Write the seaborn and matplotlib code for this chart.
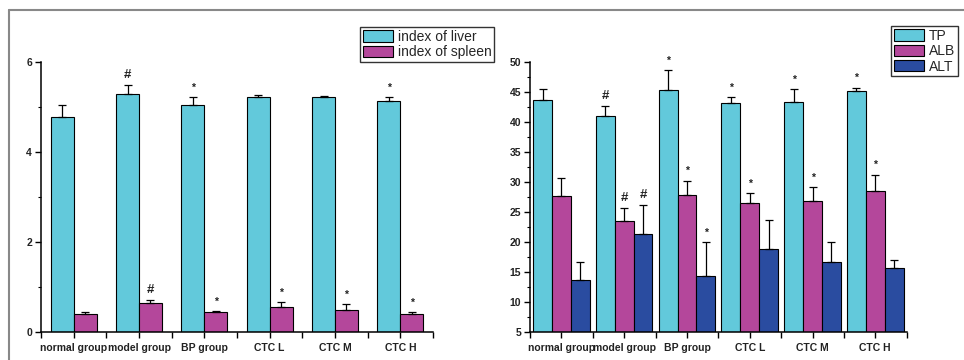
import numpy as np
import pandas as pd
import matplotlib
matplotlib.use("Agg")
import matplotlib.pyplot as plt
from matplotlib.lines import Line2D
from matplotlib.ticker import MultipleLocator, FixedLocator
import seaborn as sns

groups = ["normal group", "model group", "BP group", "CTC L", "CTC M", "CTC H"]

# left panel: organ indices
liver = [4.78, 5.28, 5.04, 5.22, 5.22, 5.14]
liver_err = [0.27, 0.20, 0.19, 0.05, 0.03, 0.08]
spleen = [0.41, 0.64, 0.44, 0.55, 0.50, 0.41]
spleen_err = [0.03, 0.07, 0.03, 0.11, 0.12, 0.03]
liver_marks = ["", "#", "*", "", "", "*"]
spleen_marks = ["", "#", "*", "*", "*", "*"]

# right panel: serum biochemistry
tp = [43.7, 41.1, 45.4, 43.2, 43.4, 45.2]
tp_err = [1.8, 1.6, 3.3, 1.0, 2.2, 0.6]
alb = [27.7, 23.6, 27.9, 26.5, 26.9, 28.6]
alb_err = [3.0, 2.1, 2.4, 1.7, 2.3, 2.7]
alt = [13.8, 21.4, 14.4, 18.9, 16.7, 15.8]
alt_err = [2.9, 4.8, 5.7, 4.9, 3.4, 1.3]
tp_marks = ["", "#", "*", "*", "*", "*"]
alb_marks = ["", "#", "*", "*", "*", "*"]
alt_marks = ["", "#", "*", "", "", ""]

c_cyan = "#62C9DB"
c_mag = "#B4479B"
c_blue = "#2A4CA0"

sns.set_theme(style="white")
plt.rcParams["font.family"] = ["Liberation Sans", "DejaVu Sans"]

fig = plt.figure(figsize=(9.64, 3.6), dpi=100)
fig.patch.set_facecolor("white")

axL = fig.add_axes([41/964, 28/360, 392/964, 270/360])
axR = fig.add_axes([530/964, 27.7/360, 376.7/964, 270/360])


def draw(ax, names, vals, errs, marks, colors, width, ylim, major, minor, legend_anchor):
    rows = []
    for n, v in zip(names, vals):
        for g, val in zip(groups, v):
            rows.append({"group": g, "series": n, "value": val})
    df = pd.DataFrame(rows)
    sns.barplot(data=df, x="group", y="value", hue="series", order=groups,
                hue_order=names, palette=colors, width=width, gap=0,
                edgecolor="black", linewidth=0.8, errorbar=None, ax=ax,
                saturation=1)
    for cont, e, m in zip(ax.containers, errs, marks):
        for bar, ev, mk in zip(cont, e, m):
            xc = bar.get_x() + bar.get_width() / 2
            h = bar.get_height()
            ax.errorbar([xc], [h], yerr=[[0], [ev]], fmt="none", ecolor="black",
                        elinewidth=0.9, capsize=3, capthick=0.9, zorder=5)
            if mk:
                fs = 9.5 if mk == "#" else 7.5
                ax.annotate(mk, (xc, h + ev), xytext=(0, 3), textcoords="offset points",
                            ha="center", va="bottom", fontsize=fs, fontweight="bold",
                            color="#222222")
    ax.set_xlim(-0.5, 5.5)
    ax.set_ylim(*ylim)
    ax.set_xlabel("")
    ax.set_ylabel("")
    for s in ["top", "right"]:
        ax.spines[s].set_visible(False)
    for s in ["left", "bottom"]:
        ax.spines[s].set_color("black")
        ax.spines[s].set_linewidth(1.1)
    ax.yaxis.set_major_locator(MultipleLocator(major))
    ax.yaxis.set_minor_locator(MultipleLocator(minor))
    ax.xaxis.set_minor_locator(FixedLocator(np.arange(-0.5, 6.0, 1.0)))
    ax.tick_params(axis="both", which="major", direction="out", length=4, width=1,
                   color="black", labelsize=7.5, pad=2.5, bottom=True, left=True)
    ax.tick_params(axis="x", which="major", pad=4)
    ax.tick_params(axis="y", which="minor", direction="out", length=2.5, width=0.8,
                   color="black", left=True)
    ax.tick_params(axis="x", which="minor", direction="out", length=4, width=1,
                   color="black", bottom=True)
    for lab in ax.get_xticklabels() + ax.get_yticklabels():
        lab.set_fontweight("bold")
        lab.set_color("#222222")
    ax.get_legend().remove()
    handles = [plt.Rectangle((0, 0), 1, 1, facecolor=c, edgecolor="black", linewidth=0.8)
               for c in colors]
    leg = fig.legend(handles, names, loc="upper left", bbox_to_anchor=legend_anchor,
                     bbox_transform=fig.transFigure, fontsize=10, frameon=True,
                     fancybox=False, handlelength=2.2, handleheight=0.85,
                     handletextpad=0.3, labelspacing=0.1, borderpad=0.2,
                     borderaxespad=0)
    leg.get_frame().set_edgecolor("black")
    leg.get_frame().set_linewidth(1.0)


draw(axL, ["index of liver", "index of spleen"], [liver, spleen],
     [liver_err, spleen_err], [liver_marks, spleen_marks], [c_cyan, c_mag],
     0.7, (0, 6), 2, 1, (360/964, 1 - 27/360))
draw(axR, ["TP", "ALB", "ALT"], [tp, alb, alt], [tp_err, alb_err, alt_err],
     [tp_marks, alb_marks, alt_marks], [c_cyan, c_mag, c_blue],
     0.9, (5, 50), 5, 2.5, (891/964, 1 - 26/360))

# outer frame lines (top and left)
fig.add_artist(Line2D([9/964, 1.0], [1 - 10/360, 1 - 10/360], transform=fig.transFigure,
                      color="#888888", linewidth=1.5))
fig.add_artist(Line2D([9/964, 9/964], [0, 1 - 10/360], transform=fig.transFigure,
                      color="#888888", linewidth=1.5))

fig.savefig("out.png", dpi=100, facecolor="white")
